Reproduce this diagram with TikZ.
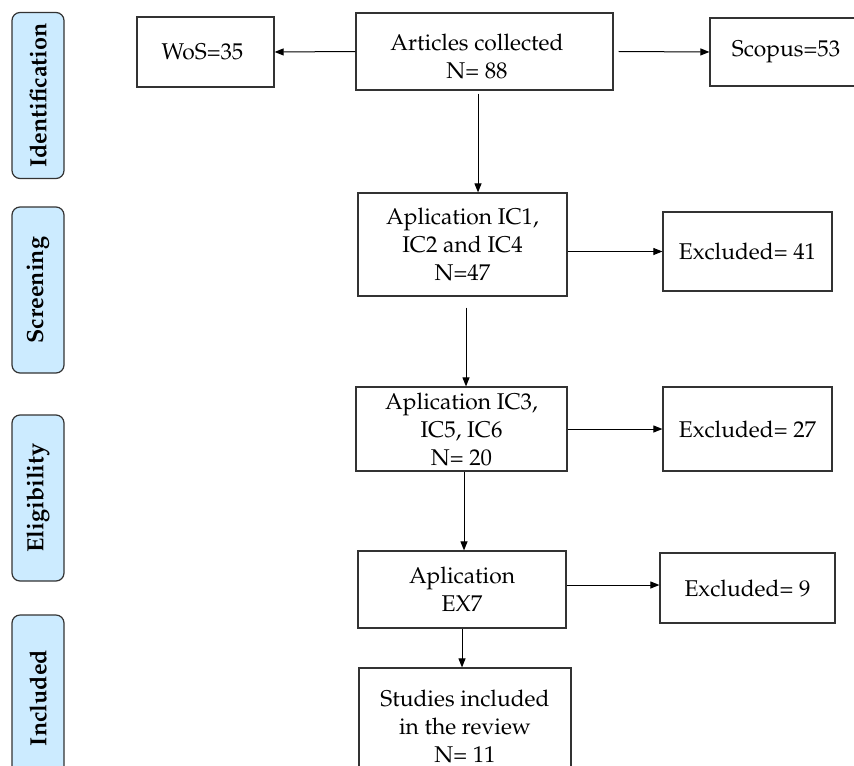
\documentclass[tikz,border=0pt]{standalone}
\usepackage[T1]{fontenc}
\renewcommand{\rmdefault}{ppl}
\usetikzlibrary{arrows.meta}
\definecolor{stagefill}{HTML}{CCEBFF}
\definecolor{edgegray}{HTML}{333333}
\begin{document}
\begin{tikzpicture}[x=0.5pt,y=-0.5pt,
  box/.style={draw=edgegray, line width=0.6pt, align=center, inner sep=0pt,
    font=\fontsize{11.4}{14}\selectfont},
  stage/.style={draw=edgegray, fill=stagefill, rounded corners=4pt, line width=0.6pt,
    rotate=90, minimum width=83pt, minimum height=26pt, inner sep=0pt,
    font=\bfseries\fontsize{11.7}{13}\selectfont},
  arr/.style={-{Triangle[length=4.5pt,width=3.5pt]}, line width=0.5pt, draw=black}]
\clip (0,0) rectangle (854,765);
\fill[white] (0,0) rectangle (854,765);
% stage labels
\node[stage] (sid) at (38,95.5) {Identification};
\node[stage] (ssc) at (38,290) {Screening};
\node[stage] (sel) at (38,498) {Eligibility};
\node[stage] (sin) at (38,698) {Included};
% boxes
\node[box, minimum width=68.5pt, minimum height=35pt] (wos) at (205.5,52) {WoS=35\hspace*{3pt}};
\node[box, minimum width=128.5pt, minimum height=38.5pt] (art) at (484.5,51.5)
  {\rule{0pt}{13.5pt}Articles collected\hspace*{7.5pt}\\N= 88\hspace*{7.5pt}};
\node[box, minimum width=76pt, minimum height=34pt] (sco) at (786,52) {Scopus=53};
\node[box, minimum width=104.5pt, minimum height=51.5pt] (ic1) at (462.5,244.5) {Aplication IC1,\\IC2 and IC4\\N=47};
\node[box, minimum width=84.5pt, minimum height=39.5pt] (ex41) at (747.5,251.5) {Excluded= 41};
\node[box, minimum width=105.5pt, minimum height=42pt] (ic3) at (461.5,429) {Aplication IC3,\\IC5, IC6\\N= 20};
\node[box, minimum width=84.5pt, minimum height=42pt] (ex27) at (747.5,429) {Excluded= 27};
\node[box, minimum width=104pt, minimum height=38.5pt] (ex7) at (462,589.5) {Aplication\\EX7};
\node[box, minimum width=87.5pt, minimum height=35pt] (ex9) at (747.5,588) {Excluded= 9};
\node[box, minimum width=106pt, minimum height=58.5pt] (stu) at (465,726.5) {Studies included\\in the review\\N= 11};
% connectors
\draw[arr] (art.west) -- (wos.east);
\draw[arr] ([xshift=2.5pt]art.east) -- (sco.west);
\draw[arr] ([xshift=-3.25pt,yshift=-1.5pt]art.south) -- ([xshift=-3.25pt]art.south |- ic1.north);
\draw[arr] (ex41.west -| ic1.east) -- (ex41.west);
\draw[arr] ([xshift=1.75pt,yshift=-5.5pt]ic1.south) -- ([xshift=1.75pt]ic1.south |- ic3.north);
\draw[arr] (ic3.east) -- (ex27.west);
\draw[arr] ([xshift=1.25pt]ic3.south) -- ([xshift=1.25pt]ic3.south |- ex7.north);
\draw[arr] ([yshift=2.25pt]ex7.east) -- ([yshift=2.25pt]ex7.east -| ex9.west);
\draw[arr] (ex7.south) -- (ex7.south |- stu.north);
\end{tikzpicture}
\end{document}
